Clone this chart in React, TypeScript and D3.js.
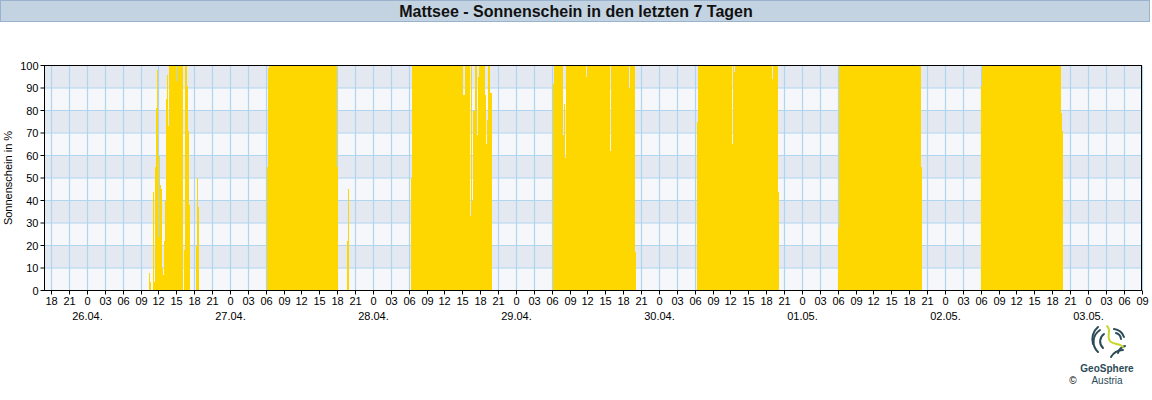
import React from 'react';
import * as d3 from 'd3';

const WIDTH = 1152;
const HEIGHT = 400;
const TITLE = 'Mattsee - Sonnenschein in den letzten 7 Tagen';
const Y_LABEL = 'Sonnenschein in %';
const yTicks = [0, 10, 20, 30, 40, 50, 60, 70, 80, 90, 100];

// Time window of the chart (local time)
const startTime = new Date(2024, 3, 25, 16, 52);
const endTime = new Date(2024, 4, 3, 9, 0);

// Sunshine in % per 10-minute interval: [from, to, value] (to exclusive)
type Run = [string, string, number];

const sun2604: Run[] = [
  ['10:20', '10:30', 8],
  ['10:30', '10:40', 4],
  ['11:00', '11:10', 44],
  ['11:10', '11:20', 4],
  ['11:20', '11:30', 55],
  ['11:30', '11:40', 81],
  ['11:40', '11:50', 95],
  ['11:50', '12:00', 98],
  ['12:00', '12:10', 24],
  ['12:10', '12:20', 60],
  ['12:20', '12:30', 47],
  ['12:30', '12:40', 45],
  ['12:40', '12:50', 10],
  ['12:50', '13:00', 7],
  ['13:00', '13:10', 22],
  ['13:10', '13:20', 40],
  ['13:20', '13:30', 85],
  ['13:30', '13:40', 96],
  ['13:40', '13:50', 73],
  ['13:50', '15:00', 100],
  ['15:00', '15:10', 93],
  ['15:10', '16:10', 100],
  ['16:20', '16:30', 18],
  ['16:30', '16:50', 100],
  ['16:50', '17:00', 91],
  ['17:00', '17:10', 71],
  ['17:10', '17:20', 38],
  ['18:20', '18:30', 20],
  ['18:30', '18:40', 50],
  ['18:40', '18:50', 37],
];

const sun2704: Run[] = [
  ['06:10', '06:20', 55],
  ['06:20', '06:30', 99],
  ['06:30', '18:00', 100],
  ['18:00', '18:10', 55],
  ['19:40', '19:50', 22],
  ['19:50', '20:00', 45],
];

const sun2804: Run[] = [
  ['06:20', '06:30', 50],
  ['06:30', '15:10', 100],
  ['15:10', '15:30', 87],
  ['15:30', '16:20', 100],
  ['16:20', '16:30', 33],
  ['16:30', '16:40', 100],
  ['16:40', '16:50', 40],
  ['16:50', '17:10', 80],
  ['17:10', '17:30', 100],
  ['17:30', '17:40', 69],
  ['17:40', '17:50', 95],
  ['17:50', '18:50', 100],
  ['18:50', '19:00', 87],
  ['19:00', '19:10', 65],
  ['19:10', '19:20', 76],
  ['19:20', '19:40', 100],
  ['19:40', '20:00', 88],
];

const sun2904: Run[] = [
  ['06:10', '06:20', 92],
  ['06:20', '07:50', 100],
  ['07:50', '08:00', 69],
  ['08:00', '08:10', 83],
  ['08:10', '08:20', 59],
  ['08:20', '11:50', 100],
  ['11:50', '12:00', 95],
  ['12:00', '15:50', 100],
  ['15:50', '16:00', 62],
  ['16:00', '19:00', 100],
  ['19:00', '19:10', 90],
  ['19:10', '20:00', 100],
  ['20:00', '20:10', 17],
];

const sun3004: Run[] = [
  ['06:20', '06:30', 75],
  ['06:30', '12:20', 100],
  ['12:20', '12:30', 65],
  ['12:30', '12:40', 100],
  ['12:40', '12:50', 97],
  ['12:50', '19:00', 100],
  ['19:00', '19:10', 94],
  ['19:10', '20:00', 100],
  ['20:00', '20:10', 44],
];

const sun0105: Run[] = [
  ['06:00', '06:10', 28],
  ['06:10', '20:00', 100],
  ['20:00', '20:10', 55],
];

const sun0205: Run[] = [
  ['06:00', '06:10', 91],
  ['06:10', '19:30', 100],
  ['19:30', '19:40', 79],
  ['19:40', '19:50', 71],
];

const dayDates: [number, number, number][] = [
  [2024, 3, 26],
  [2024, 3, 27],
  [2024, 3, 28],
  [2024, 3, 29],
  [2024, 3, 30],
  [2024, 4, 1],
  [2024, 4, 2],
];
const dayRuns: Run[][] = [sun2604, sun2704, sun2804, sun2904, sun3004, sun0105, sun0205];

interface Bar { t: Date; v: number }

function buildBars(): Bar[] {
  const bars: Bar[] = [];
  dayRuns.forEach((runs, i) => {
    const [yy, mm, dd] = dayDates[i];
    runs.forEach(([from, to, v]) => {
      const [fh, fm] = from.split(':').map(Number);
      const [th, tm] = to.split(':').map(Number);
      const a = new Date(yy, mm, dd, fh, fm);
      const b = new Date(yy, mm, dd, th, tm);
      d3.timeMinute.every(10)!.range(a, b).forEach((t) => bars.push({ t, v }));
    });
  });
  return bars;
}

const FONT = 'Arial, "Liberation Sans", Helvetica, sans-serif';

const C = {
  bar: '#FFD700',
  bandDark: '#E4E9F1',
  bandLight: '#F6F7FA',
  grid: '#B0D5EF',
  titleFill: '#C4D3E1',
  titleStroke: '#99B3CE',
  logoDark: '#2C4B58',
  logoGreen: '#C8D62B',
};

export default function App() {
  const left = 44.5;
  const right = 1141.5;
  const top = 65.5;
  const bottom = 290.5;

  const x = d3.scaleTime().domain([startTime, endTime]).range([left, right]);
  const y = d3.scaleLinear().domain([0, 100]).range([bottom, top]);

  const bars = buildBars();
  const xTicks = d3.timeHour.every(3)!.range(new Date(2024, 3, 25, 18, 0), d3.timeMinute.offset(endTime, 1));
  const fmtHour = d3.timeFormat('%H');
  const fmtDay = d3.timeFormat('%d.%m.');

  const bands = d3.range(0, 10);

  return (
    <svg
      width={WIDTH}
      height={HEIGHT}
      style={{ position: 'absolute', left: 0, top: 0, background: '#fff' }}
      fontFamily={FONT}
    >
      {/* title bar */}
      <rect x={0.5} y={0.5} width={1149} height={21} fill={C.titleFill} stroke={C.titleStroke} />
      <text x={576} y={16.5} textAnchor="middle" fontSize={16} fontWeight="bold" fill="#111">
        {TITLE}
      </text>

      {/* background bands */}
      {bands.map((i) => (
        <rect
          key={'b' + i}
          x={left}
          y={y((i + 1) * 10)}
          width={right - left}
          height={y(i * 10) - y((i + 1) * 10)}
          fill={i % 2 === 1 ? C.bandDark : C.bandLight}
        />
      ))}

      {/* grid */}
      {yTicks.slice(1, -1).map((v) => (
        <line key={'gy' + v} x1={left} x2={right} y1={y(v)} y2={y(v)} stroke={C.grid} strokeWidth={1.2} />
      ))}
      {xTicks.map((t) => (
        <line
          key={'gx' + t.getTime()}
          x1={Math.round(x(t)) + 0.5}
          x2={Math.round(x(t)) + 0.5}
          y1={top}
          y2={bottom}
          stroke={C.grid}
          strokeWidth={1.2}
        />
      ))}

      {/* bars */}
      <g fill={C.bar} shapeRendering="crispEdges">
        {bars.map((b) => {
          const x0 = Math.round(x(b.t));
          const x1 = Math.round(x(d3.timeMinute.offset(b.t, 10)));
          const y0 = Math.round(y(b.v));
          return (
            <rect
              key={'r' + b.t.getTime()}
              x={x0}
              y={y0}
              width={Math.max(1, x1 - x0)}
              height={Math.round(y(0)) - y0}
            />
          );
        })}
      </g>

      {/* frame */}
      <rect x={left} y={top} width={right - left} height={bottom - top} fill="none" stroke="#000" strokeWidth={1} />

      {/* y axis */}
      {yTicks.map((v) => (
        <g key={'yt' + v}>
          <line x1={left - 4} x2={left} y1={y(v)} y2={y(v)} stroke="#000" />
          <text x={left - 6} y={y(v) + 4} textAnchor="end" fontSize={11} fill="#000">
            {v}
          </text>
        </g>
      ))}
      <text
        transform={`translate(12, ${(top + bottom) / 2}) rotate(-90)`}
        textAnchor="middle"
        fontSize={11}
        fill="#000"
      >
        {Y_LABEL}
      </text>

      {/* x axis */}
      {xTicks.map((t) => {
        const xx = Math.round(x(t)) + 0.5;
        const h = t.getHours();
        return (
          <g key={'xt' + t.getTime()}>
            <line x1={xx} x2={xx} y1={bottom} y2={bottom + 4} stroke="#000" />
            <text x={xx} y={305} textAnchor="middle" fontSize={11} fill="#000">
              {h === 0 ? '0' : fmtHour(t)}
            </text>
            {h === 0 && (
              <text x={xx} y={320} textAnchor="middle" fontSize={11} fill="#000">
                {fmtDay(t)}
              </text>
            )}
          </g>
        );
      })}

      {/* logo */}
      <g fill="none" stroke={C.logoDark} strokeWidth={2} strokeLinecap="round">
        <path d="M1098 352 A14 14 0 0 1 1100 330" />
        <path d="M1103 348 A9 9 0 0 1 1104 334" />
        <path d="M1093 344 A16 16 0 0 1 1098 327" />
        <path d="M1118 353 A10 10 0 0 1 1125 346" />
        <path d="M1114 329 A12 12 0 0 1 1124 337" />
        <path d="M1116 333 A7 7 0 0 1 1121 339" />
        <path d="M1111 357 A14 14 0 0 1 1123 350" />
      </g>
      <path
        d="M1107 326 C1112 330 1106 336 1110 341 C1113 345 1120 343 1123 347"
        fill="none"
        stroke={C.logoGreen}
        strokeWidth={2}
        strokeLinecap="round"
      />
      <text x={1107} y={372} textAnchor="middle" fontSize={10} fontWeight="bold" fill={C.logoDark}>
        GeoSphere
      </text>
      <text x={1107} y={384} textAnchor="middle" fontSize={10} fill={C.logoDark}>
        Austria
      </text>
      <text x={1073} y={384} textAnchor="middle" fontSize={10} fill="#000">
        ©
      </text>
    </svg>
  );
}
